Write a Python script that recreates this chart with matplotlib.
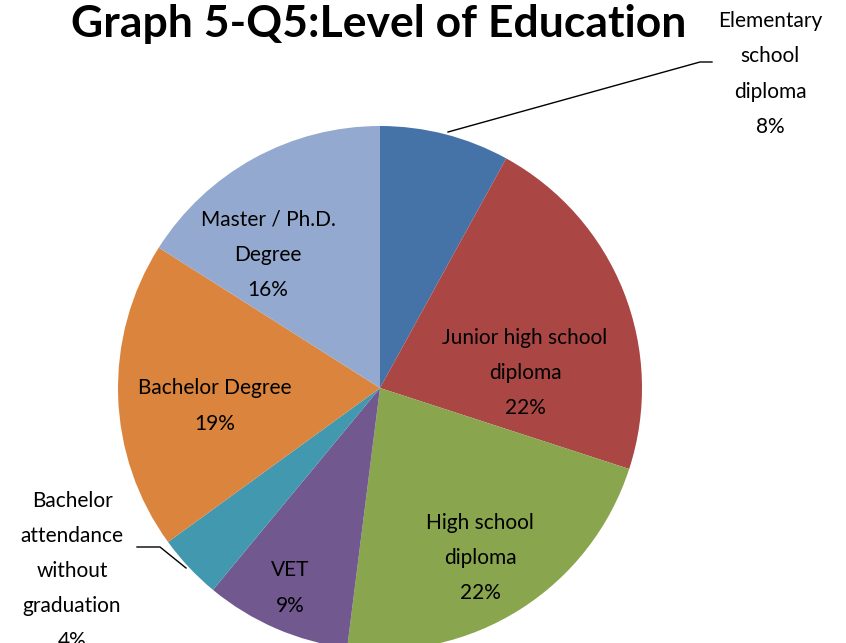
import matplotlib
matplotlib.use('Agg')
import matplotlib.pyplot as plt

W, H = 846, 643

labels = ['Elementary\nschool\ndiploma', 'Junior high school\ndiploma', 'High school\ndiploma',
          'VET', 'Bachelor\nattendance\nwithout\ngraduation', 'Bachelor Degree', 'Master / Ph.D.\nDegree']
shares = [8, 22, 22, 9, 4, 19, 16]
colors = ['#4572A7', '#AA4643', '#89A54E', '#71588F', '#4198AF', '#DB843D', '#93A9CF']

# label centres in pixel coords (y down, from the reference)
label_pos = [(770, 74), (525, 373), (480, 558), (290, 588), (72, 571), (215, 406), (268, 255)]

plt.rcParams['font.family'] = ['Lato', 'DejaVu Sans']

fig = plt.figure(figsize=(W / 100, H / 100), dpi=100)
ax = fig.add_axes([0, 0, 1, 1])

cx, cy, R = 380, 388, 262
ax.pie(shares, colors=colors, startangle=90, counterclock=False,
       center=(cx, H - cy), radius=R, frame=True,
       wedgeprops=dict(linewidth=0))
ax.set_xlim(0, W)
ax.set_ylim(0, H)
ax.set_aspect('equal')
ax.axis('off')

for lab, v, (x, y) in zip(labels, shares, label_pos):
    ax.text(x, H - y, f'{lab}\n{v}%', ha='center', va='center', fontsize=15,
            linespacing=1.95, color='black')

# leader lines
ax.plot([448, 700, 712], [H - 132, H - 62, H - 62], color='black', lw=1)
ax.plot([186, 160, 137], [H - 568, H - 547, H - 547], color='black', lw=1)

ax.text(379, H - 24, 'Graph 5-Q5:Level of Education', ha='center', va='center',
        fontsize=32, fontweight='bold')

fig.savefig('out.png', dpi=100)
